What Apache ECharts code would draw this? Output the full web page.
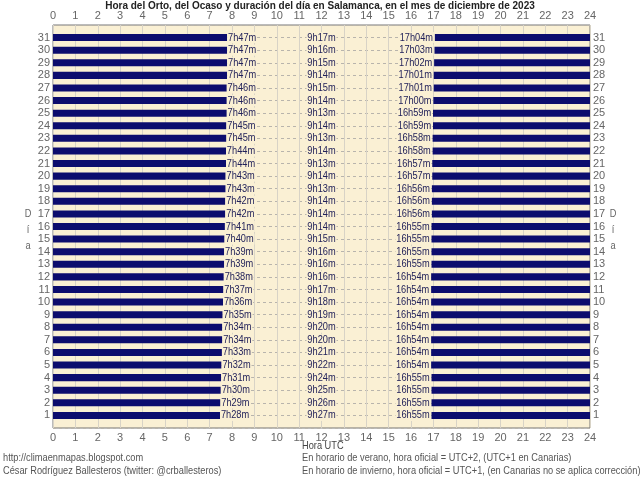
<!DOCTYPE html>
<html><head><meta charset="utf-8">
<script src="https://cdn.jsdelivr.net/npm/echarts@6/dist/echarts.min.js"></script>
<style>html,body{margin:0;padding:0;background:#fff}#c{width:640px;height:479px}</style>
</head><body><div id="c"></div>
<script>
var days = [1,2,3,4,5,6,7,8,9,10,11,12,13,14,15,16,17,18,19,20,21,22,23,24,25,26,27,28,29,30,31];
var sunrise = ["7h28m","7h29m","7h30m","7h31m","7h32m","7h33m","7h34m","7h34m","7h35m","7h36m","7h37m","7h38m","7h39m","7h39m","7h40m","7h41m","7h42m","7h42m","7h43m","7h43m","7h44m","7h44m","7h45m","7h45m","7h46m","7h46m","7h46m","7h47m","7h47m","7h47m","7h47m"];
var duration = ["9h27m","9h26m","9h25m","9h24m","9h22m","9h21m","9h20m","9h20m","9h19m","9h18m","9h17m","9h16m","9h16m","9h16m","9h15m","9h14m","9h14m","9h14m","9h13m","9h14m","9h13m","9h14m","9h13m","9h14m","9h13m","9h14m","9h15m","9h14m","9h15m","9h16m","9h17m"];
var sunset = ["16h55m","16h55m","16h55m","16h55m","16h54m","16h54m","16h54m","16h54m","16h54m","16h54m","16h54m","16h54m","16h55m","16h55m","16h55m","16h55m","16h56m","16h56m","16h56m","16h57m","16h57m","16h58m","16h58m","16h59m","16h59m","17h00m","17h01m","17h01m","17h02m","17h03m","17h04m"];
var durationLabelHour = 12;

function toHours(s){var m=s.match(/(\d+)h(\d+)m/);return +m[1]+(+m[2])/60;}
var rows = days.map(function(d,i){return [d, toHours(sunrise[i]), toHours(sunset[i]), sunrise[i], duration[i], sunset[i]];});

var FONT = 'Liberation Sans, Arial, sans-serif';
var BG = '#faf0d4';
var NAVY = '#0c0c6e';
var TXT = '#22225a';
var SX = 0.84;

var chart = echarts.init(document.getElementById('c'));
var xAx = function(pos){return {type:'value',position:pos,min:0,max:24,interval:1,
  axisLine:{show:false},axisTick:{show:false},
  axisLabel:{color:'#666',fontFamily:FONT,fontSize:11,margin:4},
  splitLine:{show:pos==='bottom',lineStyle:{color:'#d8d3c6',width:1}}};};
var yAx = function(pos){return {type:'value',position:pos,min:0,max:32,interval:1,
  axisLine:{show:false},axisTick:{show:false},
  axisLabel:{color:'#666',fontFamily:FONT,fontSize:11,margin:3,formatter:function(v){return (v>=1&&v<=31)?String(v):'';}},
  splitLine:{show:pos==='left',lineStyle:{color:'#b8b4ac',type:[3,3],width:1}}};};
function gtext(x,y,t,size,color,align){return {type:'text',x:x,y:y,scaleX:SX,style:{text:t,fontFamily:FONT,fontSize:size,fill:color,align:align||'left',verticalAlign:'middle',lineHeight:16}};}

chart.setOption({
  animation:false,
  backgroundColor:'#fff',
  title:{text:'Hora del Orto, del Ocaso y duración del día en Salamanca, en el mes de diciembre de 2023',
    left:'center',top:1,padding:0,textStyle:{fontFamily:FONT,fontSize:10,fontWeight:'bold',color:'#222'}},
  grid:{left:53,right:50,top:25,bottom:51,show:true,backgroundColor:BG,borderColor:'#777',borderWidth:1},
  xAxis:[xAx('bottom'),xAx('top')],
  yAxis:[yAx('left'),yAx('right')],
  graphic:[
    gtext(28,230,'D\ní\na',11,'#666','center'),
    gtext(613,230,'D\ní\na',11,'#666','center'),
    gtext(302,446,'Hora UTC',11,'#444'),
    gtext(3,458,'http://climaenmapas.blogspot.com',11,'#555'),
    gtext(3,471,'César Rodríguez Ballesteros (twitter: @crballesteros)',11,'#555'),
    gtext(302,458,'En horario de verano, hora oficial = UTC+2, (UTC+1 en Canarias)',11,'#555'),
    gtext(302,471,'En horario de invierno, hora oficial = UTC+1, (en Canarias no se aplica corrección)',11,'#555')
  ],
  series:[{
    type:'custom',
    data:rows,
    encode:{y:0},
    renderItem:function(params,api){
      var d=api.value(0), sr=api.value(1), ss=api.value(2);
      var p0=api.coord([0,d]), pSr=api.coord([sr,d]), pSs=api.coord([ss,d]), p24=api.coord([24,d]);
      var pMid=api.coord([durationLabelHour,d]);
      var h=api.size([0,1])[1]*0.56;
      var i=params.dataIndex;
      var lbl=function(x,txt,align){return {type:'text',x:x,y:p0[1],scaleX:SX,style:{x:0,y:0,text:txt,align:align,verticalAlign:'middle',
        fontFamily:FONT,fontSize:11,fill:TXT,backgroundColor:BG,padding:[0,1]}};};
      return {type:'group',children:[
        {type:'rect',shape:{x:p0[0],y:p0[1]-h/2,width:pSr[0]-p0[0],height:h},style:{fill:NAVY}},
        {type:'rect',shape:{x:pSs[0],y:p0[1]-h/2,width:p24[0]-pSs[0],height:h},style:{fill:NAVY}},
        lbl(pSr[0],rows[i][3],'left'),
        lbl(pMid[0],rows[i][4],'center'),
        lbl(pSs[0]-1,rows[i][5],'right')
      ]};
    }
  }]
});
</script></body></html>
